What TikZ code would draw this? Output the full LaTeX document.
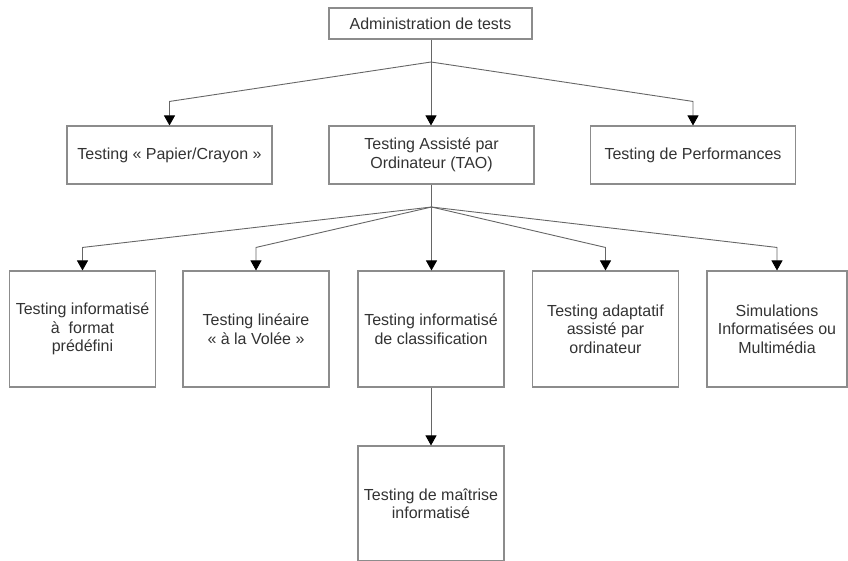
\documentclass[tikz,border=0pt]{standalone}
\usepackage{fontspec}
\setmainfont{Liberation Sans}
\usetikzlibrary{arrows.meta,positioning,calc}

\begin{document}
\begin{tikzpicture}[x=1pt,y=-1pt,
  box/.style={draw=black!45, line width=1.1pt, fill=white, align=center,
    text=black!80, font=\fontsize{16}{18.5}\selectfont, inner sep=2pt},
  topbox/.style={box, minimum width=203pt, minimum height=31pt},
  midbox/.style={box, minimum width=205pt, minimum height=58pt},
  leafbox/.style={box, minimum width=146pt, minimum height=116pt},
  link/.style={draw=black!60, line width=0.9pt},
  arr/.style={link, -{Triangle[width=11pt,length=10pt,color=black]}}]
\useasboundingbox (0,0) rectangle (848,560);
% Root
\node[topbox] (adm) at (430.5,23.5) {Administration de tests};
% Second level
\node[midbox] (pap) at (169.5,155) {Testing « Papier/Crayon »};
\node[midbox] (tao) at (431.5,155) {Testing Assisté par\\Ordinateur (TAO)};
\node[midbox] (perf) at (693,155) {Testing de Performances};
% Third level
\node[leafbox] (fmt) at (82.5,329) {Testing informatisé\\à~ format\\prédéfini};
\node[leafbox] (lin) at (256,329) {Testing linéaire\\« à la Volée »};
\node[leafbox] (cls) at (431,329) {Testing informatisé\\de classification};
\node[leafbox] (adp) at (605.5,329) {Testing adaptatif\\assisté par\\ordinateur};
\node[leafbox, minimum width=140pt] (sim) at (777,329) {Simulations\\Informatisées ou\\Multimédia};
% Last level
\node[leafbox, minimum height=115pt] (mai) at (431,503.5) {Testing de maîtrise\\informatisé};
% Branch points
\coordinate (br1) at (431,62);
\coordinate (br2) at (431.5,207);
% Root to second level
\draw[link] (adm.south -| br1) -- (br1);
\draw[arr] (br1) -- (tao.north -| br1);
\foreach \n in {pap,perf} {
  \draw[arr] (br1) -- ([yshift=24pt]\n.north) -- (\n.north);
}
% TAO to third level
\draw[link] (tao.south -| br2) -- (br2);
\draw[arr] (br2) -- (cls.north -| br2);
\foreach \n in {fmt,lin,adp,sim} {
  \draw[arr] (br2) -- ([yshift=23pt]\n.north) -- (\n.north);
}
% Classification to mastery
\draw[arr] (cls) -- (mai);
\end{tikzpicture}
\end{document}
